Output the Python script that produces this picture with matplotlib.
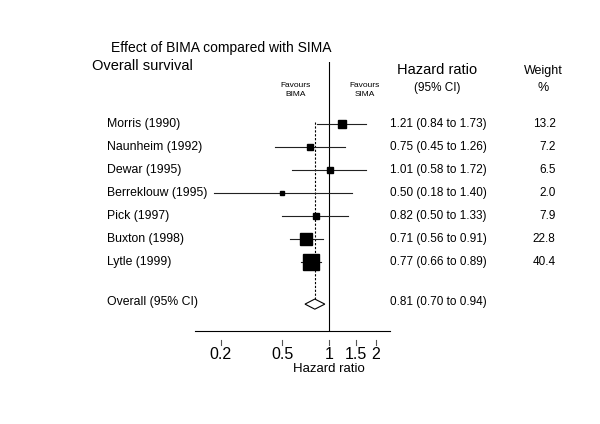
import numpy as np
import matplotlib
matplotlib.use('Agg')
from matplotlib import pyplot as plt
from matplotlib.transforms import blended_transform_factory

plt.rcParams['font.family'] = ['Liberation Sans', 'DejaVu Sans']

studies = ['Morris (1990)', 'Naunheim (1992)', 'Dewar (1995)', 'Berreklouw (1995)',
           'Pick (1997)', 'Buxton (1998)', 'Lytle (1999)']
hr = [1.21, 0.75, 1.01, 0.50, 0.82, 0.71, 0.77]
lo = [0.84, 0.45, 0.58, 0.18, 0.50, 0.56, 0.66]
hi = [1.73, 1.26, 1.72, 1.40, 1.33, 0.91, 0.89]
weight = [13.2, 7.2, 6.5, 2.0, 7.9, 22.8, 40.4]

overall_label = 'Overall (95% CI)'
overall = (0.81, 0.70, 0.94)

xticks = [0.2, 0.5, 1, 1.5, 2]
xticklabels = ['0.2', '0.5', '1', '1.5', '2']

fig = plt.figure(figsize=(6, 4.24), dpi=100)
ax = fig.add_axes([0.325, 0.2193, 0.325, 0.6345])
ax.set_xscale('log')
ax.set_xlim(0.1366, 2.475)
ax.set_ylim(9.0, -2.7)

rows = np.arange(len(studies))
y_over = 7.83

# confidence intervals and weighted squares
for i in rows:
    ax.plot([lo[i], hi[i]], [i, i], color='#222222', lw=0.8, zorder=2)
    side = 2.36 * np.sqrt(weight[i]) * 0.72
    ax.plot(hr[i], i, marker='s', markersize=side, color='black', mec='black', zorder=3)

# overall diamond
est, olo, ohi = overall
ax.fill([olo, est, ohi, est, olo], [y_over, y_over - 0.22, y_over, y_over + 0.22, y_over],
        facecolor='white', edgecolor='black', lw=0.8, zorder=3)
ax.plot([est, est], [-0.1, y_over - 0.22], color='black', lw=0.8, ls=(0, (2, 1.5)), zorder=1)
ax.axvline(1, color='black', lw=0.8, zorder=1)

for s in ['left', 'right', 'top']:
    ax.spines[s].set_visible(False)
ax.spines['bottom'].set_linewidth(0.8)
ax.set_yticks([])
ax.set_xticks([])
ax.minorticks_off()

# ticks sit a bit below the axis line
tr = blended_transform_factory(ax.transData, ax.transAxes)
for t, lab in zip(xticks, xticklabels):
    ax.plot([t, t], [-0.032, -0.052], color='#555555', lw=0.8, transform=tr, clip_on=False)
    ax.text(t, -0.06, lab, transform=tr, ha='center', va='top', fontsize=11.5)
ax.text(1, -0.142, 'Hazard ratio', transform=tr, ha='center', va='center', fontsize=9.5)

# text columns
tc = blended_transform_factory(fig.transFigure, ax.transData)
for i in rows:
    ax.text(0.178, i, studies[i], transform=tc, ha='left', va='center', fontsize=8.8)
    ax.text(0.65, i, '%.2f (%.2f to %.2f)' % (hr[i], lo[i], hi[i]),
            transform=tc, ha='left', va='center', fontsize=8.5)
    ax.text(0.926, i, '%.1f' % weight[i], transform=tc, ha='right', va='center', fontsize=8.5)
ax.text(0.178, y_over - 0.1, overall_label, transform=tc, ha='left', va='center', fontsize=8.8)
ax.text(0.65, y_over - 0.1, '%.2f (%.2f to %.2f)' % overall,
        transform=tc, ha='left', va='center', fontsize=8.5)

# headers
ax.text(0.728, -2.35, 'Hazard ratio', transform=tc, ha='center', va='center', fontsize=10.5)
ax.text(0.728, -1.57, '(95% CI)', transform=tc, ha='center', va='center', fontsize=8.5)
ax.text(0.905, -2.3, 'Weight', transform=tc, ha='center', va='center', fontsize=9)
ax.text(0.905, -1.57, '%', transform=tc, ha='center', va='center', fontsize=9)
ax.text(0.492, -1.48, 'Favours\nBIMA', transform=tc, ha='center', va='center',
        fontsize=6, linespacing=1.5)
ax.text(0.608, -1.48, 'Favours\nSIMA', transform=tc, ha='center', va='center',
        fontsize=6, linespacing=1.5)

fig.text(0.185, 0.887, 'Effect of BIMA compared with SIMA', ha='left', va='center', fontsize=10)
fig.text(0.153, 0.844, 'Overall survival', ha='left', va='center', fontsize=10.5)

fig.savefig('out.png', dpi=100)
